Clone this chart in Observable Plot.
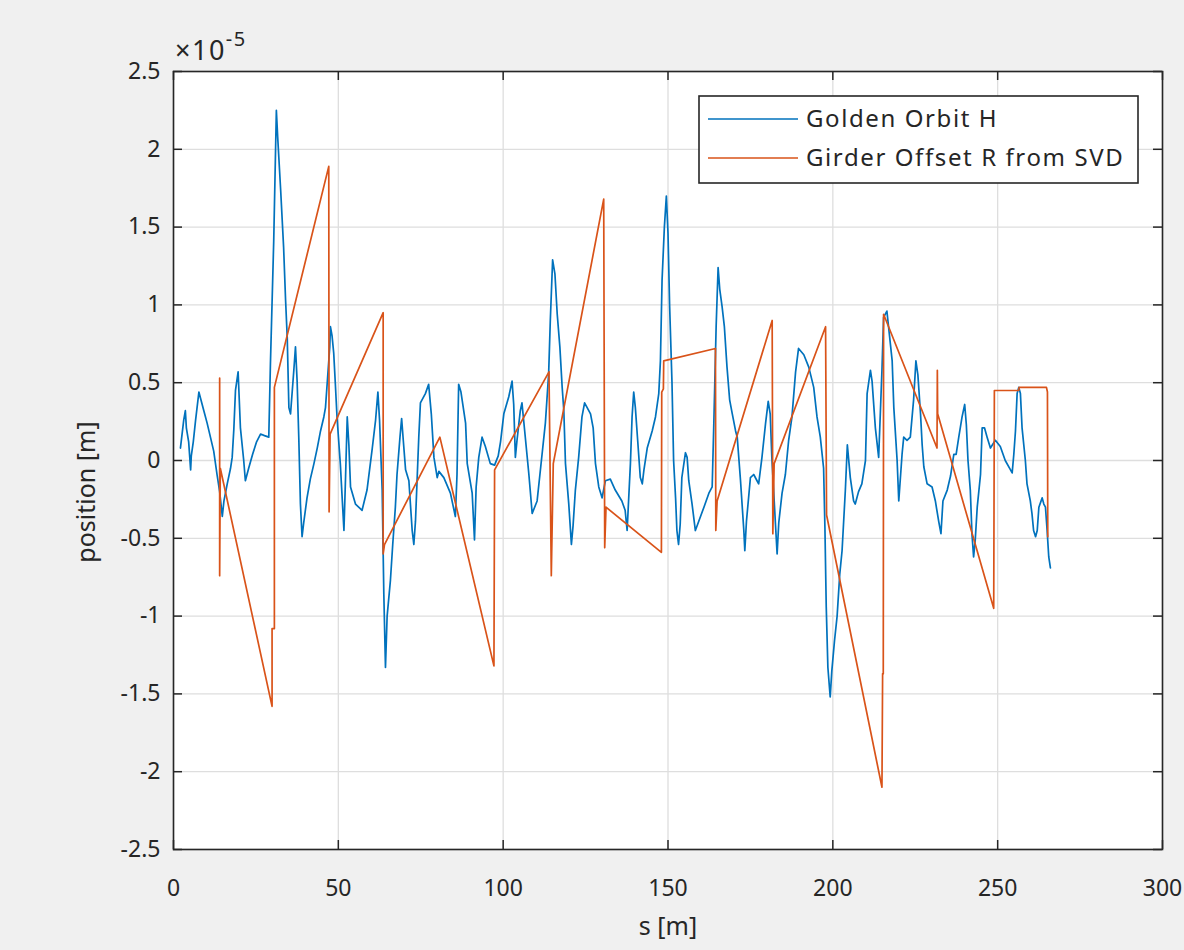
<!DOCTYPE html>
<html>
<head>
<meta charset="utf-8">
<script src="https://cdn.jsdelivr.net/npm/d3@7"></script>
<script src="https://cdn.jsdelivr.net/npm/@observablehq/plot@0.6"></script>
<style>
  html, body { margin: 0; padding: 0; background: #f0f0f0; }
  #chart { width: 1184px; height: 950px; }
</style>
</head>
<body>
<div id="chart"></div>
<script>
// Horizontal golden orbit along the ring, s [m] and position in units of 1e-5 m
const orbitS = [2.1,3.1,3.6,3.9,4.6,5.2,5.4,6.0,6.7,7.7,8.2,9.2,10.2,11.2,12.2,13.2,14.0,14.8,15.3,16.3,17.3,17.8,18.3,18.8,19.6,20.3,21.3,21.8,22.8,24.0,25.2,26.4,27.6,28.9,29.4,30.4,31.2,31.6,32.5,33.4,34.0,34.5,35.0,35.5,36.5,37.0,37.5,38.0,38.5,39.0,39.5,40.5,41.5,42.6,43.6,44.6,45.6,46.1,46.6,47.4,47.6,48.1,48.6,49.1,49.6,50.6,51.7,52.2,52.7,53.2,53.7,55.2,57.2,58.7,60.3,61.3,62.0,62.5,63.3,63.8,64.3,64.8,65.8,66.5,67.3,67.8,68.7,69.2,69.7,70.4,71.4,72.4,72.9,73.4,74.4,74.9,76.4,77.4,78.2,79.0,80.0,80.5,82.0,84.0,85.5,86.0,86.5,87.2,88.6,89.1,90.6,91.3,91.8,92.6,93.6,94.6,96.1,97.4,98.5,99.2,100.2,101.7,102.7,103.2,103.7,104.2,105.2,105.7,106.8,107.8,108.8,110.3,111.8,112.8,113.8,114.3,115.0,115.7,116.4,117.2,117.9,118.4,118.9,119.9,120.7,121.2,121.9,122.9,123.9,124.7,126.5,127.3,128.0,129.0,130.0,131.0,132.5,134.0,136.0,137.0,137.6,138.6,139.1,139.6,140.1,140.8,141.6,142.2,142.7,143.7,145.2,146.2,147.2,147.7,148.2,148.9,149.5,150.0,150.5,151.2,151.7,152.3,152.7,153.2,153.7,154.2,155.3,155.8,156.3,157.3,158.3,159.0,160.9,162.4,163.4,163.9,164.6,165.2,165.7,166.4,167.1,167.9,168.7,169.5,170.5,171.0,172.0,173.0,173.3,173.8,175.0,176.0,177.0,177.5,178.5,179.6,180.4,181.0,181.5,182.6,183.1,183.6,184.6,185.6,186.6,187.6,188.7,189.6,191.2,192.7,194.2,195.2,196.2,197.2,197.6,198.0,198.5,199.2,199.7,200.5,201.3,202.1,202.8,203.8,204.4,205.3,206.3,206.8,207.8,208.8,209.9,210.4,211.4,211.9,212.9,213.9,214.9,215.4,216.4,216.9,218.0,218.5,219.5,220.0,221.0,221.5,222.5,223.5,224.5,225.2,225.8,226.6,227.1,227.6,228.6,230.1,231.1,232.1,232.8,233.4,234.7,235.7,236.7,237.4,238.2,239.2,240.0,240.5,241.0,241.7,242.2,242.7,243.2,243.8,244.8,245.3,246.0,246.8,247.8,249.3,250.8,252.3,253.9,254.4,254.9,255.4,255.9,256.4,256.9,257.4,258.4,258.9,259.9,260.4,260.9,261.5,262.0,262.5,263.5,264.0,264.5,265.0,265.5,266.0];
const orbitH = [0.08,0.26,0.32,0.21,0.12,-0.06,0.03,0.12,0.26,0.44,0.40,0.32,0.24,0.15,0.06,-0.09,-0.20,-0.36,-0.26,-0.15,-0.05,0.02,0.20,0.45,0.57,0.21,0.00,-0.13,-0.05,0.04,0.12,0.17,0.16,0.15,0.62,1.41,2.25,2.08,1.74,1.37,1.03,0.79,0.34,0.30,0.58,0.73,0.51,0.15,-0.28,-0.49,-0.40,-0.24,-0.12,-0.02,0.08,0.19,0.28,0.34,0.49,0.73,0.86,0.80,0.69,0.49,0.28,-0.02,-0.45,-0.10,0.28,0.10,-0.17,-0.28,-0.32,-0.19,0.08,0.26,0.44,0.26,-0.19,-0.86,-1.33,-1.00,-0.77,-0.54,-0.30,-0.09,0.15,0.27,0.13,-0.06,-0.13,-0.45,-0.54,-0.39,0.15,0.37,0.43,0.49,0.30,0.02,-0.11,-0.07,-0.11,-0.21,-0.36,-0.09,0.49,0.44,0.24,-0.02,-0.21,-0.51,-0.17,0.02,0.15,0.09,-0.02,-0.03,0.03,0.12,0.30,0.41,0.51,0.36,0.02,0.13,0.32,0.37,0.13,-0.09,-0.34,-0.26,0.04,0.24,0.56,0.90,1.29,1.20,0.94,0.73,0.47,0.32,-0.02,-0.28,-0.54,-0.42,-0.19,0.02,0.28,0.37,0.30,0.21,-0.02,-0.17,-0.24,-0.13,-0.12,-0.19,-0.26,-0.32,-0.45,-0.02,0.28,0.44,0.34,0.13,-0.11,-0.15,-0.06,0.08,0.19,0.28,0.43,0.64,1.16,1.50,1.70,1.46,0.99,0.51,0.00,-0.24,-0.45,-0.54,-0.41,-0.11,0.05,0.02,-0.13,-0.28,-0.45,-0.41,-0.30,-0.21,-0.17,0.24,0.86,1.24,1.10,0.99,0.86,0.60,0.39,0.30,0.19,0.15,-0.13,-0.45,-0.58,-0.39,-0.11,-0.09,-0.13,-0.15,0.02,0.24,0.38,0.30,0.02,-0.41,-0.60,-0.40,-0.21,-0.09,0.13,0.28,0.57,0.72,0.68,0.60,0.47,0.28,0.15,-0.05,-0.43,-0.94,-1.33,-1.52,-1.35,-1.16,-1.00,-0.73,-0.58,-0.19,0.10,-0.11,-0.26,-0.28,-0.20,-0.15,0.00,0.43,0.58,0.51,0.21,0.02,0.58,0.92,0.96,0.86,0.64,0.34,0.00,-0.26,0.04,0.15,0.13,0.15,0.39,0.64,0.55,0.30,0.10,-0.04,-0.15,-0.17,-0.26,-0.39,-0.47,-0.26,-0.19,-0.10,0.04,0.04,0.15,0.28,0.36,0.23,0.00,-0.19,-0.47,-0.62,-0.51,-0.30,-0.09,0.21,0.21,0.15,0.08,0.13,0.09,0.00,-0.06,-0.08,0.04,0.19,0.43,0.47,0.43,0.21,0.00,-0.15,-0.26,-0.34,-0.45,-0.49,-0.45,-0.30,-0.24,-0.28,-0.30,-0.45,-0.62,-0.69];

// Girder offsets R recovered from the SVD, same units
const girderS = [14.0,14.0,14.2,29.9,29.9,30.6,30.6,47.1,47.2,47.5,63.6,63.6,64.0,80.8,97.2,97.4,113.9,114.6,115.2,130.5,130.8,131.2,148.0,148.1,148.6,148.7,164.4,164.5,164.9,181.6,181.8,182.2,197.8,198.1,214.9,215.1,215.3,215.4,231.6,231.7,231.8,248.8,249.0,256.4,256.5,264.8,265.1,265.2];
const girderR = [0.53,-0.74,-0.05,-1.58,-1.08,-1.08,0.47,1.89,-0.33,0.17,0.95,-0.60,-0.54,0.15,-1.32,-0.06,0.57,-0.74,-0.02,1.68,-0.56,-0.30,-0.59,0.44,0.46,0.64,0.72,-0.45,-0.26,0.90,-0.47,-0.02,0.86,-0.35,-2.10,-1.37,-1.37,0.94,0.08,0.58,0.30,-0.95,0.45,0.45,0.47,0.47,0.44,-0.49];

const xTicks = [0, 50, 100, 150, 200, 250, 300];
const xTickLabels = ["0", "50", "100", "150", "200", "250", "300"];
const yTicks = [-2.5, -2, -1.5, -1, -0.5, 0, 0.5, 1, 1.5, 2, 2.5];
const yTickLabels = ["-2.5", "-2", "-1.5", "-1", "-0.5", "0", "0.5", "1", "1.5", "2", "2.5"];

const seriesNames = ["Golden Orbit H", "Girder Offset R from SVD"];
const seriesColors = ["#0072BD", "#D95319"];

const orbit = orbitS.map((s, i) => ({s, v: orbitH[i]}));
const girder = girderS.map((s, i) => ({s, v: girderR[i]}));

const W = 1184, H = 950;
const mL = 173, mR = 22, mT = 71, mB = 101;
const innerW = W - mL - mR, innerH = H - mT - mB;
const ink = "#262626";
const font = "'Noto Sans', 'Open Sans', sans-serif";
const tickLen = 9;

const chart = Plot.plot({
  width: W,
  height: H,
  marginLeft: mL,
  marginRight: mR,
  marginTop: mT,
  marginBottom: mB,
  x: {domain: [0, 300], label: null},
  y: {domain: [-2.5, 2.5], label: null},
  style: {background: "#f0f0f0", fontFamily: font, color: ink, overflow: "visible"},
  marks: [
    Plot.frame({fill: "white", stroke: null}),
    Plot.gridX(xTicks, {stroke: "#dedede", strokeOpacity: 1, strokeWidth: 1.3}),
    Plot.gridY(yTicks, {stroke: "#dedede", strokeOpacity: 1, strokeWidth: 1.3}),
    Plot.line(orbit, {x: "s", y: "v", stroke: seriesColors[0], strokeWidth: 1.7}),
    Plot.line(girder, {x: "s", y: "v", stroke: seriesColors[1], strokeWidth: 1.7}),
    // inward ticks on all four sides of the box
    Plot.tickX(xTicks, {x: d => d, insetTop: innerH - tickLen, stroke: ink, strokeWidth: 1.5}),
    Plot.tickX(xTicks, {x: d => d, insetBottom: innerH - tickLen, stroke: ink, strokeWidth: 1.5}),
    Plot.tickY(yTicks, {y: d => d, insetRight: innerW - tickLen, stroke: ink, strokeWidth: 1.5}),
    Plot.tickY(yTicks, {y: d => d, insetLeft: innerW - tickLen, stroke: ink, strokeWidth: 1.5}),
    Plot.frame({stroke: ink, strokeWidth: 1.6}),
    Plot.axisX(xTicks, {tickSize: 0, tickPadding: 30, fontSize: 23, fill: ink, label: null,
      tickFormat: d => xTickLabels[xTicks.indexOf(d)]}),
    Plot.axisY(yTicks, {tickSize: 0, tickPadding: 13, fontSize: 23, fill: ink, label: null,
      tickFormat: d => yTickLabels[yTicks.indexOf(d)]}),
    Plot.text(["s [m]"], {text: d => d, frameAnchor: "bottom", dy: 85, fontSize: 25, fill: ink})
  ]
});

document.getElementById("chart").appendChild(chart);

const svg = d3.select(chart);

// y axis title
svg.append("text")
  .attr("transform", "translate(86,492) rotate(-90)")
  .attr("text-anchor", "middle").attr("dy", "0.35em")
  .attr("font-family", font).attr("font-size", 25).attr("fill", ink)
  .text("position [m]");

// scale factor of the y axis
const exp = svg.append("text")
  .attr("x", 175).attr("y", 60).attr("text-anchor", "start")
  .attr("font-family", font).attr("font-size", 27).attr("letter-spacing", 1.5).attr("fill", ink);
exp.append("tspan").text("×10");
exp.append("tspan").attr("dy", -14).attr("font-size", 20).text("-5");

// legend
const lg = svg.append("g").attr("font-family", font).attr("text-anchor", "start");
lg.append("rect")
  .attr("x", 699).attr("y", 96).attr("width", 439).attr("height", 87)
  .attr("fill", "white").attr("stroke", ink).attr("stroke-width", 1.6);
seriesNames.forEach((name, i) => {
  const cy = 119 + i * 39;
  lg.append("line")
    .attr("x1", 708).attr("x2", 798).attr("y1", cy).attr("y2", cy)
    .attr("stroke", seriesColors[i]).attr("stroke-width", 1.7);
  lg.append("text")
    .attr("x", 806).attr("y", cy).attr("dy", "0.35em")
    .attr("font-size", 24).attr("letter-spacing", 1.6).attr("fill", ink)
    .text(name);
});
</script>
</body>
</html>
